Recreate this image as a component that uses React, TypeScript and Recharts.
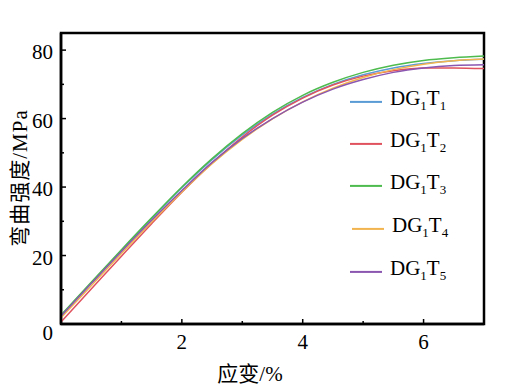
import { Line, LineChart, ReferenceArea, XAxis, YAxis } from "recharts";

const strain = [0, 0.5, 1, 1.5, 2, 2.5, 3, 3.5, 4, 4.5, 5, 5.5, 6, 6.5, 7];

const t1 = [2.5, 12, 21.5, 30.8, 39.8, 48, 55.2, 61.3, 66.2, 70, 72.8, 74.8, 76.1, 76.9, 77.3];
const t2 = [0.6, 10.2, 19.8, 29.3, 38.5, 47, 54.6, 61, 66, 69.8, 72.4, 74, 74.8, 74.8, 74.6];
const t3 = [2.6, 12.2, 21.7, 31, 40, 48.3, 55.6, 61.8, 66.8, 70.6, 73.5, 75.6, 77, 77.8, 78.3];
const t4 = [1.8, 11.2, 20.6, 29.8, 38.6, 46.8, 53.9, 59.9, 64.9, 68.9, 72, 74.3, 75.9, 76.9, 77.4];
const t5 = [2.3, 11.8, 21.2, 30.3, 39, 47.2, 54.2, 60, 64.8, 68.6, 71.4, 73.5, 74.8, 75.5, 75.7];

const xTicks = [1, 2, 3, 4, 5, 6];
const yTicks = [0, 10, 20, 30, 40, 50, 60, 70, 80];

const series = [
  { key: "t1", sub: "1", color: "#5b9bd5", values: t1 },
  { key: "t2", sub: "2", color: "#e0525e", values: t2 },
  { key: "t3", sub: "3", color: "#4dbb4d", values: t3 },
  { key: "t4", sub: "4", color: "#f2b44e", values: t4 },
  { key: "t5", sub: "5", color: "#8a56b0", values: t5 },
];

const data = strain.map((s, i) => {
  const row: Record<string, number> = { strain: s };
  series.forEach((sr) => {
    row[sr.key] = sr.values[i];
  });
  return row;
});

const FONT = "Liberation Serif, DejaVu Serif, Noto Sans CJK SC, serif";

const XTick = (props: any) => {
  const { x, y, payload } = props;
  const major = payload.value % 2 === 0;
  return (
    <g>
      <line x1={x} x2={x} y1={y} y2={y - (major ? 5 : 3)} stroke="#000" strokeWidth={1.5} />
      {major && (
        <text x={x} y={y + 18} textAnchor="middle" dominantBaseline="central" fontSize={21} style={{ fontFamily: FONT }} fill="#000">
          {payload.value}
        </text>
      )}
    </g>
  );
};

const YTick = (props: any) => {
  const { x, y, payload } = props;
  const major = payload.value % 20 === 0;
  return (
    <g>
      <line x1={x} x2={x + (major ? 5 : 3)} y1={y} y2={y} stroke="#000" strokeWidth={1.5} />
      {major && (
        <text
          x={x - 8}
          y={y + (payload.value === 0 ? 9 : 2)}
          textAnchor="end"
          dominantBaseline="central"
          fontSize={21}
          style={{ fontFamily: FONT }}
          fill="#000"
        >
          {payload.value}
        </text>
      )}
    </g>
  );
};

const legendTop = [102, 144, 186, 229, 272];

const App = () => {
  return (
    <div style={{ position: "absolute", left: 0, top: 0, width: 509, height: 390, background: "#fff", fontFamily: FONT }}>
      <LineChart width={509} height={390} data={data} margin={{ top: 33, right: 25, left: 0, bottom: 0 }}>
        <XAxis
          dataKey="strain"
          type="number"
          domain={[0, 7]}
          ticks={xTicks}
          interval={0}
          tickSize={0}
          tickMargin={0}
          height={66}
          tick={<XTick />}
          axisLine={{ stroke: "#000", strokeWidth: 2.5 }}
          tickLine={false}
        />
        <YAxis
          type="number"
          domain={[0, 85]}
          ticks={yTicks}
          interval={0}
          tickSize={0}
          tickMargin={0}
          width={61}
          tick={<YTick />}
          axisLine={{ stroke: "#000", strokeWidth: 2.5 }}
          tickLine={false}
        />
        <ReferenceArea x1={0} x2={7} y1={0} y2={85} fill="none" stroke="#000" strokeWidth={2.5} />
        {series.map((sr) => (
          <Line
            key={sr.key}
            type="monotone"
            dataKey={sr.key}
            stroke={sr.color}
            strokeWidth={1.5}
            dot={false}
            isAnimationActive={false}
          />
        ))}
      </LineChart>
      <div
        style={{
          position: "absolute",
          left: 18,
          top: 178,
          transform: "translate(-50%, -50%) rotate(-90deg)",
          fontSize: 21,
          whiteSpace: "nowrap",
          letterSpacing: 1,
        }}
      >
        弯曲强度/MPa
      </div>
      <div
        style={{
          position: "absolute",
          left: 250,
          top: 372,
          transform: "translate(-50%, -50%)",
          fontSize: 21,
          whiteSpace: "nowrap",
        }}
      >
        应变/%
      </div>
      {series.map((sr, i) => (
        <div
          key={sr.key}
          style={{
            position: "absolute",
            left: i === 3 ? 352 : 350,
            top: legendTop[i],
            display: "flex",
            alignItems: "center",
            transform: "translateY(-50%)",
          }}
        >
          <div style={{ width: 32, height: 1.5, background: sr.color }} />
          <div style={{ marginLeft: 8, fontSize: 21, lineHeight: "24px", whiteSpace: "nowrap" }}>
            DG<sub style={{ fontSize: 13 }}>1</sub>T<sub style={{ fontSize: 13 }}>{sr.sub}</sub>
          </div>
        </div>
      ))}
    </div>
  );
};

export default App;
